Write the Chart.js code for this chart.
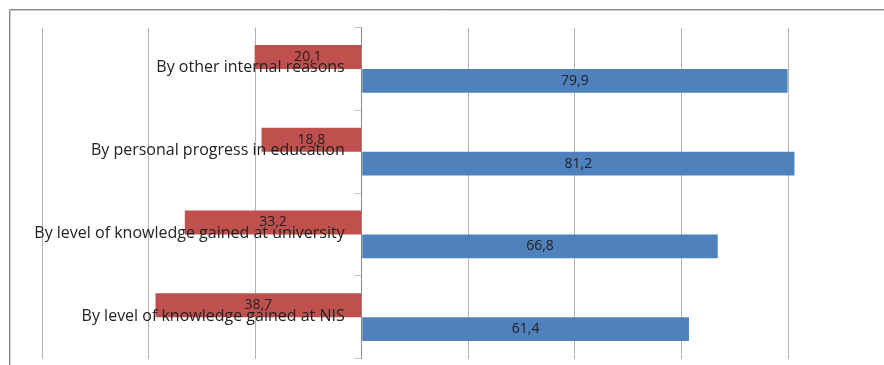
<!DOCTYPE html>
<html>
<head>
<meta charset="utf-8">
<script src="https://cdn.jsdelivr.net/npm/chart.js@4.4.0/dist/chart.umd.min.js"></script>
<style>
  html, body { margin: 0; padding: 0; background: #fff; }
  #wrap { width: 884px; height: 365px; }
</style>
</head>
<body>
<div id="wrap"><canvas id="reasonsChart" width="884" height="365"></canvas></div>
<script>
// Categories, top to bottom
const categories = [
    'By other internal reasons',
    'By personal progress in education',
    'By level of knowledge gained at university',
    'By level of knowledge gained at NIS'
];

// Red series goes to the left of the axis, blue to the right
const redValues = [20.1, 18.8, 33.2, 38.7];
const blueValues = [79.9, 81.2, 66.8, 61.4];

// Vertical gridlines (no tick labels are shown)
const xTicks = [-60, -40, -20, 0, 20, 40, 60, 80];

const categoryFont = '16px "Open Sans"';
const valueFont = '14px "Open Sans"';
const textColor = '#222';

// Grey frame of the chart, cut off on the right and bottom
const framePlugin = {
    id: 'frame',
    beforeDraw(chart) {
        const ctx = chart.ctx;
        ctx.save();
        ctx.lineWidth = 1;
        ctx.strokeStyle = '#878787';
        ctx.beginPath();
        ctx.moveTo(9.5, chart.height + 5);
        ctx.lineTo(9.5, 9.5);
        ctx.lineTo(chart.width + 5, 9.5);
        ctx.stroke();
        ctx.strokeStyle = '#cfcfcf';
        ctx.beginPath();
        ctx.moveTo(10.5, chart.height + 5);
        ctx.lineTo(10.5, 10.5);
        ctx.lineTo(chart.width + 5, 10.5);
        ctx.stroke();
        ctx.restore();
    }
};

// Category names sit next to the zero axis, inside the plot
const categoryLabelPlugin = {
    id: 'categoryLabels',
    afterDatasetsDraw(chart) {
        const ctx = chart.ctx;
        const xScale = chart.scales.x;
        const yScale = chart.scales.y;
        const x0 = xScale.getPixelForValue(0) - 17;
        ctx.save();
        ctx.font = categoryFont;
        ctx.fillStyle = textColor;
        ctx.textAlign = 'right';
        ctx.textBaseline = 'middle';
        categories.forEach((name, i) => {
            ctx.fillText(name, x0, yScale.getPixelForValue(i) - 1);
        });
        ctx.restore();
    }
};

// Value labels centred in each bar, with decimal comma
const valueLabelPlugin = {
    id: 'valueLabels',
    afterDatasetsDraw(chart) {
        const ctx = chart.ctx;
        ctx.save();
        ctx.font = valueFont;
        ctx.fillStyle = textColor;
        ctx.textAlign = 'center';
        ctx.textBaseline = 'middle';
        chart.data.datasets.forEach((ds, di) => {
            const meta = chart.getDatasetMeta(di);
            meta.data.forEach((bar, i) => {
                const p = bar.getProps(['x', 'y', 'base'], true);
                const text = Math.abs(ds.data[i]).toFixed(1).replace('.', ',');
                ctx.fillText(text, (p.x + p.base) / 2, p.y);
            });
        });
        ctx.restore();
    }
};

const ctx = document.getElementById('reasonsChart').getContext('2d');
const reasonsChart = new Chart(ctx, {
    type: 'bar',
    data: {
        labels: categories,
        datasets: [{
            data: redValues.map(v => -v),
            backgroundColor: '#c0504d',
            categoryPercentage: 0.58,
            barPercentage: 1
        }, {
            data: blueValues,
            backgroundColor: '#4f81bd',
            categoryPercentage: 0.58,
            barPercentage: 1
        }]
    },
    options: {
        indexAxis: 'y',
        responsive: false,
        animation: false,
        devicePixelRatio: 1,
        layout: {
            padding: { left: 42, right: 0, top: 27.5, bottom: 6.5 }
        },
        plugins: {
            legend: { display: false },
            tooltip: { enabled: false }
        },
        scales: {
            x: {
                min: -60,
                max: 98,
                afterBuildTicks: (scale) => {
                    scale.ticks = xTicks.map(v => ({ value: v }));
                },
                ticks: { display: false },
                border: { display: false },
                grid: {
                    drawTicks: false,
                    color: (c) => (c.tick && c.tick.value === 0) ? '#8a8a8a' : '#b2b2b2'
                }
            },
            y: {
                position: { x: 0 },
                ticks: { display: false },
                border: { display: true, color: '#8a8a8a' },
                grid: {
                    drawOnChartArea: false,
                    drawTicks: true,
                    tickLength: 7,
                    color: '#c4c4c4'
                }
            }
        }
    },
    plugins: [framePlugin, categoryLabelPlugin, valueLabelPlugin]
});
</script>
</body>
</html>
